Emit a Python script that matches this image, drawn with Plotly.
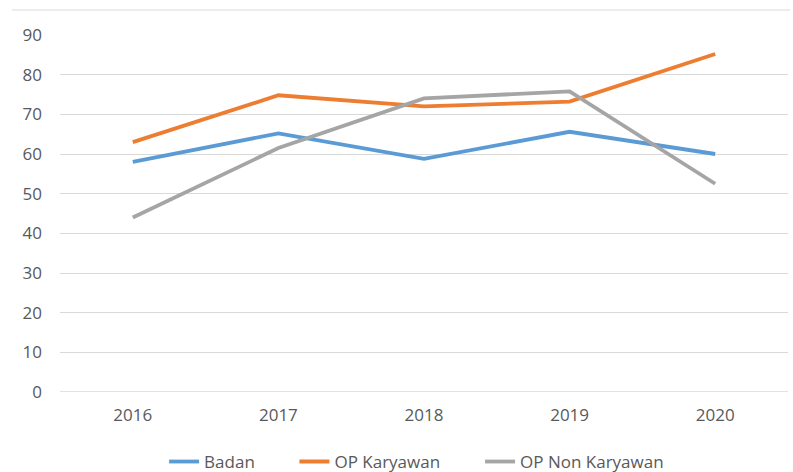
import plotly.graph_objects as go

years = ["2016", "2017", "2018", "2019", "2020"]
badan = [58, 65.2, 58.8, 65.6, 60]
op_karyawan = [63, 74.8, 72, 73.2, 85.2]
op_non_karyawan = [44, 61.5, 74, 75.8, 52.5]
y_ticks = [0, 10, 20, 30, 40, 50, 60, 70, 80, 90]

series = [
    ("Badan", badan, "#5B9BD5", "legend", 0.143),
    ("OP Karyawan", op_karyawan, "#ED7D31", "legend2", 0.322),
    ("OP Non Karyawan", op_non_karyawan, "#A5A5A5", "legend3", 0.577),
]

fig = go.Figure()
for name, vals, color, lg, _ in series:
    fig.add_trace(go.Scatter(
        x=list(range(len(years))), y=vals, name=name, mode="lines",
        line=dict(color=color, width=3.8), legend=lg,
    ))

font = "Open Sans"
legend_style = dict(orientation="h", xanchor="left", y=-0.196, yanchor="middle",
                    font=dict(size=17, color="#595959"), bgcolor="rgba(0,0,0,0)")
fig.update_layout(
    width=793, height=472,
    margin=dict(l=60, r=5, t=35, b=80, autoexpand=False),
    paper_bgcolor="white", plot_bgcolor="white",
    font=dict(family=font, size=17, color="#595959"),
    showlegend=True,
    legend=dict(x=series[0][4], **legend_style),
    legend2=dict(x=series[1][4], **legend_style),
    legend3=dict(x=series[2][4], **legend_style),
    xaxis=dict(range=[-0.5, 4.5], tickmode="array", tickvals=list(range(len(years))),
               ticktext=years, showgrid=False, zeroline=False, showline=False,
               ticks="", ticklabelstandoff=11, fixedrange=True),
    yaxis=dict(range=[0, 90], tickmode="array", tickvals=y_ticks, showgrid=True,
               gridcolor="#D9D9D9", gridwidth=1, zeroline=False, showline=False,
               ticks="", ticklabelstandoff=17, fixedrange=True),
)
fig.add_shape(type="line", xref="paper", yref="paper", x0=-0.066, x1=1.003,
              y0=1.07, y1=1.07, line=dict(color="#D9D9D9", width=1))
fig.add_shape(type="line", xref="paper", yref="y", x0=0, x1=1, y0=0, y1=0,
              line=dict(color="#D9D9D9", width=1.3))

fig.write_html("out.html")
